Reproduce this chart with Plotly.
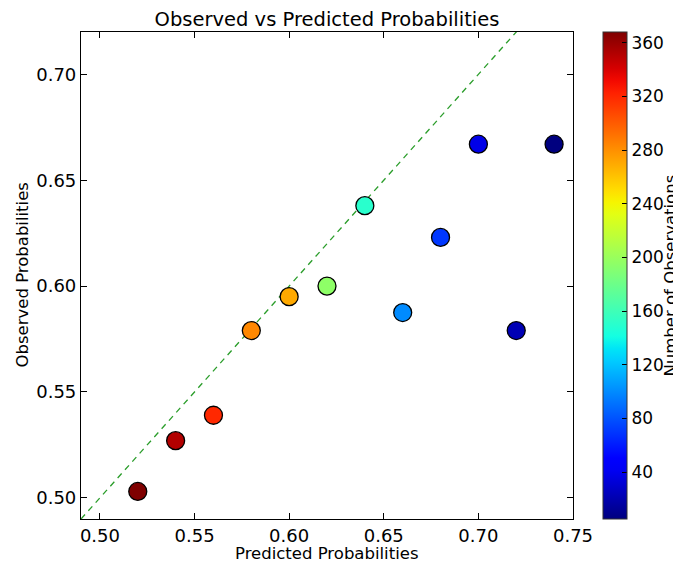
import plotly.graph_objects as go
import numpy as np

predicted = [0.52, 0.54, 0.56, 0.58, 0.60, 0.62, 0.64, 0.66, 0.68, 0.70, 0.72, 0.74]
observed = [0.503, 0.527, 0.539, 0.579, 0.595, 0.600, 0.638, 0.5875, 0.623, 0.667, 0.579, 0.667]
n_obs = [368, 352, 320, 283, 270, 195, 150, 100, 70, 38, 22, 5]
diag = [0.49, 0.75]
cbar_ticks = [40, 80, 120, 160, 200, 240, 280, 320, 360]
x_ticks = [0.50, 0.55, 0.60, 0.65, 0.70, 0.75]
y_ticks = [0.50, 0.55, 0.60, 0.65, 0.70]

# matplotlib 'jet' colormap
def jet(t):
    r = np.interp(t, [0, 0.35, 0.66, 0.89, 1], [0, 0, 1, 1, 0.5])
    g = np.interp(t, [0, 0.125, 0.375, 0.64, 0.91, 1], [0, 0, 1, 1, 0, 0])
    b = np.interp(t, [0, 0.11, 0.34, 0.65, 1], [0.5, 1, 1, 0, 0])
    return f"rgb({int(r*255)},{int(g*255)},{int(b*255)})"

jet_scale = [[t, jet(t)] for t in np.linspace(0, 1, 41)]

FONT = "DejaVu Sans"
# the page body has an 8px margin; figure is sized/positioned accordingly
W, H = 673, 560
L, R, T, B = 73, 108, 24, 49
PW, PH = W - L - R, H - T - B

fig = go.Figure()
fig.add_trace(go.Scatter(
    x=diag, y=diag, mode="lines",
    line=dict(color="#2a9d2a", width=1.3, dash="6px,5px"),
    showlegend=False, hoverinfo="skip"))
fig.add_trace(go.Scatter(
    x=predicted, y=observed, mode="markers",
    marker=dict(size=18, color=n_obs, colorscale=jet_scale,
                cmin=min(n_obs), cmax=max(n_obs),
                line=dict(color="black", width=1.3),
                colorbar=dict(
                    x=(595 - L) / PW, xanchor="left", xref="paper",
                    y=0.5, yanchor="middle", len=1.0, lenmode="fraction",
                    thickness=24, outlinecolor="#333", outlinewidth=1,
                    xpad=0, ypad=0,
                    tickvals=cbar_ticks, ticks="inside", ticklen=5,
                    tickcolor="black",
                    tickfont=dict(family=FONT, size=17, color="black"),
                )),
    showlegend=False))

axis_common = dict(
    showline=True, linecolor="black", linewidth=1.2, mirror="ticks",
    ticks="inside", ticklen=6, tickcolor="black",
    showgrid=False, zeroline=False,
    tickfont=dict(family=FONT, size=18, color="black"),
)

fig.update_layout(
    width=W, height=H,
    margin=dict(l=L, r=R, t=T, b=B, autoexpand=False),
    paper_bgcolor="white", plot_bgcolor="white",
    title=dict(text="Observed vs Predicted Probabilities",
               x=(L + PW / 2) / W, xanchor="center",
               y=1 - 11 / H, yanchor="middle",
               font=dict(family=FONT, size=19.5, color="black")),
    xaxis=dict(range=[0.49, 0.75], tickvals=x_ticks, tickformat=".2f",
               **axis_common),
    yaxis=dict(range=[0.49, 0.72], tickvals=y_ticks, tickformat=".2f",
               **axis_common),
    annotations=[
        dict(text="Predicted Probabilities", xref="paper", yref="paper",
             x=0.5, y=-34 / PH, xanchor="center", yanchor="middle",
             showarrow=False, font=dict(family=FONT, size=16.5, color="black")),
        dict(text="Observed Probabilities", xref="paper", yref="paper",
             x=(14 - L) / PW, y=0.5, xanchor="center", yanchor="middle",
             textangle=-90, showarrow=False,
             font=dict(family=FONT, size=16.5, color="black")),
        dict(text="Number of Observations", xref="paper", yref="paper",
             x=(662 - L) / PW, y=0.5, xanchor="center", yanchor="middle",
             textangle=-90, showarrow=False,
             font=dict(family=FONT, size=16.5, color="black")),
    ],
)

fig.write_html("out.html")
